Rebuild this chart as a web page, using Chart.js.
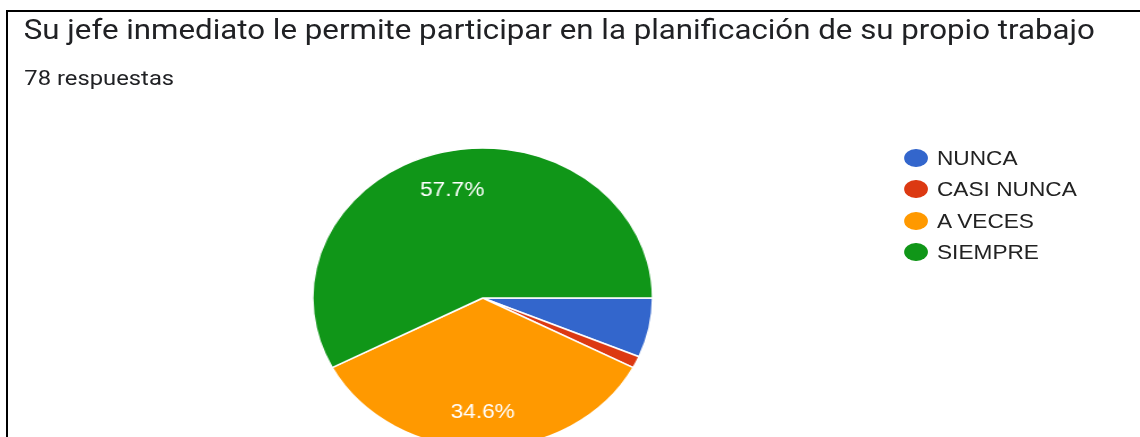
<!DOCTYPE html>
<html>
<head>
<meta charset="utf-8">
<script src="https://cdn.jsdelivr.net/npm/chart.js@4.4.0/dist/chart.umd.min.js"></script>
<style>
  html, body { margin:0; padding:0; background:#fff; width:1140px; height:437px; overflow:hidden; }
  #frameTop { position:absolute; left:6px; top:10px; width:1134px; height:2px; background:#000; }
  #frameLeft { position:absolute; left:6px; top:10px; width:2px; height:427px; background:#000; }
  #wrap { position:absolute; left:0; top:0; width:1006px; height:437px; transform:scaleX(1.133); transform-origin:0 0; }
  #title { position:absolute; left:21px; top:15.5px; font-family:Roboto, sans-serif; font-size:27.6px; line-height:27.6px; color:#202124; white-space:nowrap; }
  #sub { position:absolute; left:21.5px; top:67.5px; font-family:Roboto, sans-serif; font-size:21px; line-height:21px; color:#202124; white-space:nowrap; }
  #pie { position:absolute; }
  #legend { position:absolute; left:798px; top:148px; }
  .item { position:absolute; left:0; height:20px; white-space:nowrap; }
  .dot { position:absolute; left:0; top:1px; width:20.5px; height:18px; border-radius:50%; }
  .lbl { position:absolute; left:29px; top:0; font-family:"Liberation Sans", Arial, sans-serif; font-size:20px; line-height:20px; color:#222; }
</style>
</head>
<body>
<div id="frameTop"></div>
<div id="frameLeft"></div>
<div id="wrap">
  <div id="title">Su jefe inmediato le permite participar en la planificación de su propio trabajo</div>
  <div id="sub">78 respuestas</div>
  <canvas id="pie" width="320" height="320"></canvas>
  <div id="legend"></div>
</div>
<script>
const categories = ["NUNCA", "CASI NUNCA", "A VECES", "SIEMPRE"];
const counts = [5, 1, 27, 45];
const colors = ["#3366cc", "#dc3912", "#ff9900", "#109618"];

// layout (unscaled coordinates inside the stretched wrapper)
const pieCX = 426.3, pieCY = 297.7, pieR = 150;
const canvas = document.getElementById('pie');
canvas.style.left = (pieCX - 160) + 'px';
canvas.style.top = (pieCY - 160) + 'px';

// legend
const legendEl = document.getElementById('legend');
categories.forEach((c, i) => {
  const it = document.createElement('div');
  it.className = 'item';
  it.style.top = (i * 31.3) + 'px';
  it.innerHTML = '<div class="dot" style="background:' + colors[i] + '"></div><div class="lbl">' + c + '</div>';
  legendEl.appendChild(it);
});

const total = counts.reduce((a, b) => a + b, 0);

const sliceLabels = {
  id: 'sliceLabels',
  afterDatasetsDraw(chart) {
    const ctx = chart.ctx;
    const meta = chart.getDatasetMeta(0);
    ctx.save();
    ctx.fillStyle = '#ffffff';
    ctx.font = '20px "Liberation Sans", Arial, sans-serif';
    ctx.textAlign = 'center';
    ctx.textBaseline = 'middle';
    meta.data.forEach((arc, i) => {
      const pct = counts[i] / total * 100;
      if (pct < 10) return;
      const mid = (arc.startAngle + arc.endAngle) / 2;
      const r = arc.outerRadius * 0.75;
      const x = arc.x + Math.cos(mid) * r;
      const y = arc.y + Math.sin(mid) * r + 2;
      ctx.fillText(pct.toFixed(1) + '%', x, y);
    });
    ctx.restore();
  }
};

new Chart(canvas, {
  type: 'pie',
  data: {
    labels: categories,
    datasets: [{
      data: counts,
      backgroundColor: colors,
      borderColor: '#ffffff',
      borderWidth: 1.5,
      hoverOffset: 0
    }]
  },
  options: {
    responsive: false,
    animation: false,
    devicePixelRatio: 1,
    rotation: 90,
    radius: pieR,
    layout: { padding: 0 },
    plugins: { legend: { display: false }, tooltip: { enabled: false } }
  },
  plugins: [sliceLabels]
});
</script>
</body>
</html>
